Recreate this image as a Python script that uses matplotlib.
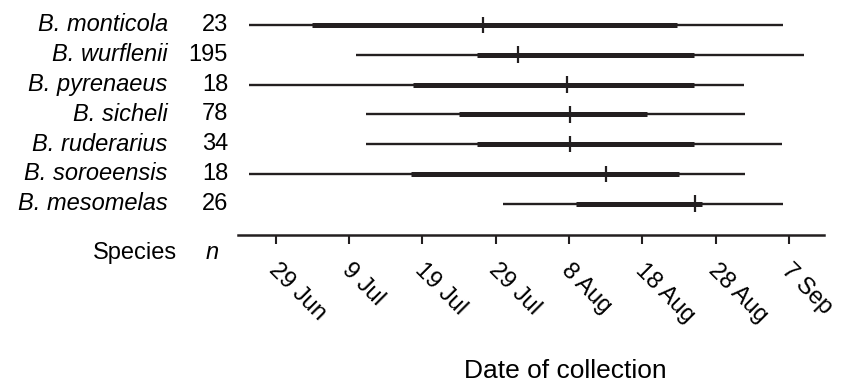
import matplotlib
matplotlib.use('Agg')
import matplotlib.pyplot as plt
import matplotlib.transforms as mtransforms

plt.rcParams['font.family'] = ['Liberation Sans', 'DejaVu Sans']

# dates given as days after 1 June
species = ['B. monticola', 'B. wurflenii', 'B. pyrenaeus', 'B. sicheli',
           'B. ruderarius', 'B. soroeensis', 'B. mesomelas']
n_obs = [23, 195, 18, 78, 34, 18, 26]
d_min = [24.3, 39.0, 24.3, 40.3, 40.3, 24.3, 59.0]
d_q1 = [33.0, 55.4, 46.7, 53.0, 55.5, 46.5, 69.0]
d_med = [56.3, 61.0, 67.7, 68.2, 68.2, 73.1, 85.2]
d_q3 = [82.8, 85.0, 85.0, 78.6, 85.0, 83.0, 86.1]
d_max = [97.2, 100.0, 91.9, 92.0, 97.0, 92.0, 97.2]

tick_days = [28, 38, 48, 58, 68, 78, 88, 98]
tick_labels = ['29 Jun', '9 Jul', '19 Jul', '29 Jul', '8 Aug', '18 Aug', '28 Aug', '7 Sep']

col = '#231f20'

fig = plt.figure(figsize=(8.43, 3.82), dpi=100)
ax = fig.add_axes([0.2827, 0.3848, 0.9775 - 0.2827, 0.974 - 0.3848])

ypos = list(range(len(species)))
ax.hlines(ypos, d_min, d_max, color=col, lw=1.7, capstyle='butt')
ax.hlines(ypos, d_q1, d_q3, color=col, lw=3.6, capstyle='butt')
for y, m in zip(ypos, d_med):
    ax.plot([m, m], [y - 0.28, y + 0.28], color=col, lw=1.6, solid_capstyle='butt')

ax.set_xlim(22.9, 102.8)
ax.set_ylim(7.05, -0.504)
ax.set_yticks([])
for s in ['left', 'right', 'top']:
    ax.spines[s].set_visible(False)
ax.spines['bottom'].set_linewidth(1.8)
ax.spines['bottom'].set_color(col)

ax.set_xticks(tick_days)
ax.set_xticklabels(tick_labels, rotation=-45, ha='left', va='top',
                   rotation_mode='anchor', fontsize=17)
ax.tick_params(axis='x', direction='out', length=6.5, width=1.5, color=col, pad=11)
shift = mtransforms.ScaledTranslation(4 / 100, 0, fig.dpi_scale_trans)
for lab in ax.get_xticklabels():
    lab.set_transform(lab.get_transform() + shift)

trans = mtransforms.blended_transform_factory(fig.transFigure, ax.transData)
for y, name, n in zip(ypos, species, n_obs):
    ax.text(0.199, y, name, transform=trans, ha='right', va='center',
            fontsize=17, style='italic', color='black')
    ax.text(0.2705, y, str(n), transform=trans, ha='right', va='center',
            fontsize=17, color='black')

fig.text(0.21, 0.338, 'Species', ha='right', va='center', fontsize=17)
fig.text(0.2515, 0.338, 'n', ha='center', va='center', fontsize=17, style='italic')
fig.text(0.671, 0.010, 'Date of collection', ha='center', va='baseline', fontsize=19)

fig.savefig('out.png', dpi=100)
